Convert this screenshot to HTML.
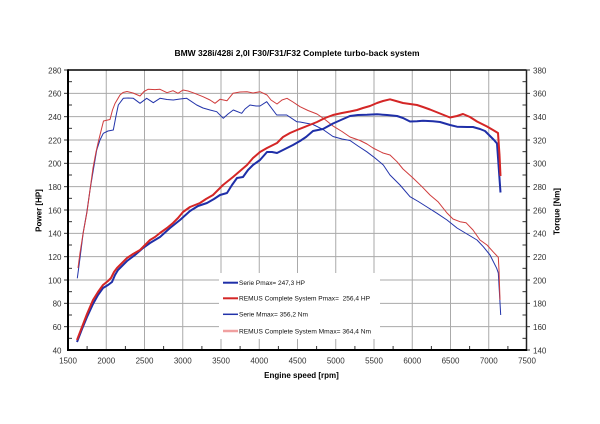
<!DOCTYPE html>
<html><head><meta charset="utf-8"><style>
html,body{margin:0;padding:0;background:#fff;}
svg{display:block;}
text{font-family:"Liberation Sans",Arial,sans-serif;}
</style></head><body>
<svg width="600" height="424" viewBox="0 0 600 424" xmlns="http://www.w3.org/2000/svg">
<rect x="0" y="0" width="600" height="424" fill="#fff"/>
<!-- grid -->
<g stroke="#aaaaaa" stroke-width="1" fill="none">
<line x1="106.25" y1="70" x2="106.25" y2="350"/>
<line x1="144.5" y1="70" x2="144.5" y2="350"/>
<line x1="182.75" y1="70" x2="182.75" y2="350"/>
<line x1="221" y1="70" x2="221" y2="350"/>
<line x1="259.25" y1="70" x2="259.25" y2="350"/>
<line x1="297.5" y1="70" x2="297.5" y2="350"/>
<line x1="335.75" y1="70" x2="335.75" y2="350"/>
<line x1="374" y1="70" x2="374" y2="350"/>
<line x1="412.25" y1="70" x2="412.25" y2="350"/>
<line x1="450.5" y1="70" x2="450.5" y2="350"/>
<line x1="488.75" y1="70" x2="488.75" y2="350"/>
<line x1="68" y1="93.33" x2="526.5" y2="93.33"/>
<line x1="68" y1="116.67" x2="526.5" y2="116.67"/>
<line x1="68" y1="140" x2="526.5" y2="140"/>
<line x1="68" y1="163.33" x2="526.5" y2="163.33"/>
<line x1="68" y1="186.67" x2="526.5" y2="186.67"/>
<line x1="68" y1="210" x2="526.5" y2="210"/>
<line x1="68" y1="233.33" x2="526.5" y2="233.33"/>
<line x1="68" y1="256.67" x2="526.5" y2="256.67"/>
<line x1="68" y1="280" x2="526.5" y2="280"/>
<line x1="68" y1="303.33" x2="526.5" y2="303.33"/>
<line x1="68" y1="326.67" x2="526.5" y2="326.67"/>
</g>
<!-- minor ticks -->
<g stroke="#333" stroke-width="1">
<line x1="68" y1="81.67" x2="72" y2="81.67"/><line x1="68" y1="105" x2="72" y2="105"/><line x1="68" y1="128.33" x2="72" y2="128.33"/><line x1="68" y1="151.67" x2="72" y2="151.67"/><line x1="68" y1="175" x2="72" y2="175"/><line x1="68" y1="198.33" x2="72" y2="198.33"/><line x1="68" y1="221.67" x2="72" y2="221.67"/><line x1="68" y1="245" x2="72" y2="245"/><line x1="68" y1="268.33" x2="72" y2="268.33"/><line x1="68" y1="291.67" x2="72" y2="291.67"/><line x1="68" y1="315" x2="72" y2="315"/><line x1="68" y1="338.33" x2="72" y2="338.33"/>
<line x1="522.5" y1="81.67" x2="526.5" y2="81.67"/><line x1="522.5" y1="105" x2="526.5" y2="105"/><line x1="522.5" y1="128.33" x2="526.5" y2="128.33"/><line x1="522.5" y1="151.67" x2="526.5" y2="151.67"/><line x1="522.5" y1="175" x2="526.5" y2="175"/><line x1="522.5" y1="198.33" x2="526.5" y2="198.33"/><line x1="522.5" y1="221.67" x2="526.5" y2="221.67"/><line x1="522.5" y1="245" x2="526.5" y2="245"/><line x1="522.5" y1="268.33" x2="526.5" y2="268.33"/><line x1="522.5" y1="291.67" x2="526.5" y2="291.67"/><line x1="522.5" y1="315" x2="526.5" y2="315"/><line x1="522.5" y1="338.33" x2="526.5" y2="338.33"/>
<line x1="87.1" y1="346" x2="87.1" y2="350"/><line x1="125.4" y1="346" x2="125.4" y2="350"/><line x1="163.6" y1="346" x2="163.6" y2="350"/><line x1="201.9" y1="346" x2="201.9" y2="350"/><line x1="240.1" y1="346" x2="240.1" y2="350"/><line x1="278.4" y1="346" x2="278.4" y2="350"/><line x1="316.6" y1="346" x2="316.6" y2="350"/><line x1="354.9" y1="346" x2="354.9" y2="350"/><line x1="393.1" y1="346" x2="393.1" y2="350"/><line x1="431.4" y1="346" x2="431.4" y2="350"/><line x1="469.6" y1="346" x2="469.6" y2="350"/><line x1="507.9" y1="346" x2="507.9" y2="350"/>
</g>
<!-- major ticks outward -->
<g stroke="#333" stroke-width="1">
<line x1="64" y1="70" x2="68" y2="70"/><line x1="64" y1="93.33" x2="68" y2="93.33"/><line x1="64" y1="116.67" x2="68" y2="116.67"/><line x1="64" y1="140" x2="68" y2="140"/><line x1="64" y1="163.33" x2="68" y2="163.33"/><line x1="64" y1="186.67" x2="68" y2="186.67"/><line x1="64" y1="210" x2="68" y2="210"/><line x1="64" y1="233.33" x2="68" y2="233.33"/><line x1="64" y1="256.67" x2="68" y2="256.67"/><line x1="64" y1="280" x2="68" y2="280"/><line x1="64" y1="303.33" x2="68" y2="303.33"/><line x1="64" y1="326.67" x2="68" y2="326.67"/>
<line x1="526.5" y1="70" x2="530" y2="70"/><line x1="526.5" y1="93.33" x2="530" y2="93.33"/><line x1="526.5" y1="116.67" x2="530" y2="116.67"/><line x1="526.5" y1="140" x2="530" y2="140"/><line x1="526.5" y1="163.33" x2="530" y2="163.33"/><line x1="526.5" y1="186.67" x2="530" y2="186.67"/><line x1="526.5" y1="210" x2="530" y2="210"/><line x1="526.5" y1="233.33" x2="530" y2="233.33"/><line x1="526.5" y1="256.67" x2="530" y2="256.67"/><line x1="526.5" y1="280" x2="530" y2="280"/><line x1="526.5" y1="303.33" x2="530" y2="303.33"/><line x1="526.5" y1="326.67" x2="530" y2="326.67"/><line x1="526.5" y1="350" x2="530" y2="350"/>
</g>
<!-- legend box -->
<rect x="219" y="273" width="161" height="66" fill="#fff"/>
<!-- torque curves -->
<polyline fill="none" stroke="#2233aa" stroke-width="1" stroke-linejoin="round" points="77.3,278.3 80,258 83.3,232 86.7,213 90,190 93.3,170 96.7,150 100,140 103.3,133.3 108,131 113.3,130 116,116 118.3,105 123.3,98.3 128,98 133.3,98.3 140,103.3 146.7,98.3 153.3,102.7 160,98.3 167,99.5 173.3,100 180,99 186.7,98.3 196.7,105 203,108 210,110 216.7,111.7 223.3,118.3 228,114 233.3,110 241.7,113.3 245,109 250,105 256,106 260,106 266.7,101.7 276.7,115 286.7,115 296.7,121.7 300,122 313,124.5 323,129.5 333,136.5 342,139 350,140.5 358,146 366.7,151.7 375,158 383.3,165 390,175 400,185 410,196.7 418.3,201.5 427,207 437,213.3 447,220 457,228 467,234 477,240 483.3,246.7 490,255 496.7,268.3 498.3,273 500.7,315"/>
<polyline fill="none" stroke="#d03c3c" stroke-width="1" stroke-linejoin="round" points="78,268 80,253 83,234 87,212 90,190 93,168 96,152 98.5,141 101,131 103.5,121 110,119.5 112.5,110 115,103.5 120,95 123,92.5 127,91.5 133,93 140,96 144,91.5 148,89.3 155,89.6 160,89.3 167,92.7 173,90.7 178,93.3 183,90 188,91 193,92.7 203,96.7 210,100 215,103.3 220,99.3 227,100.7 233,93.3 240,92 247,91.7 253,93 260,91.7 267,95 271,100 277,104 282,100 287,98.3 293,102 300,106.7 308,110.5 317,114 325,119.5 333,126 342,131.5 350,137 360,140.5 367,144 373,148 383,153 390,155 397,161.7 403,169 413,178 422,186.7 430,195 438,201.7 447,213 453,219 460,221.7 466,222.7 473,230 480,240 487,245 493,251.7 498.3,257.3 499,270 500,300"/>
<!-- power curves -->
<polyline fill="none" stroke="#1f2fa8" stroke-width="2" stroke-linejoin="round" points="77,342 82,329 87,317 93,304 98,295 103,288 108,285 112,282 115,275 118,270 122,266 127,261 135,255 143,248 150,243 160,237 170,228 180,220 190,211 198,206 207,203 214,199 220,195 227,193 232,185 237,178 243,177 248,170 253,165 260,160 267,152 272,152 277,153 285,149 293,145 300,141 306,137 313,131 323,129 333,123.5 342,119.5 350,116 358,115 367,114.8 377,114.3 387,115 397,116 403,118 410,121.5 417,121.3 423,120.8 433,121.2 440,122 450,125 457,126.7 467,127 473,127 480,129 485,131 490,136 494,140 497,143.5 500.5,192.5"/>
<polyline fill="none" stroke="#d42626" stroke-width="2" stroke-linejoin="round" points="77,340 82,327 87,314 93,300 98,292 103,285 108,281 111,278 114,272 117,268 121,264 127,258 133,254 140,250 145,245 150,240 155,237 160,233 167,228 173,223 178,218 183,212 190,207 200,203 206,199 213,195 218,190 223,185 228,181 233,177 240,171 247,165 253,158 260,152 267,148 277,143 283,137 290,133 297,130 307,126 317,122 325,118 333,115 342,113 350,111.5 357,110 363,108 370,106 377,103 383,101 390,99.3 396,101 403,103 410,104 417,105 423,107 430,109.5 440,113.5 450,117.5 457,116 463,114 470,117 477,121.5 487,126.5 493,130 498,133 499.5,155 500.5,176"/>
<!-- legend entries -->
<line x1="223" y1="282.7" x2="238" y2="282.7" stroke="#1f2fa8" stroke-width="2"/>
<line x1="223" y1="298.3" x2="238" y2="298.3" stroke="#d42626" stroke-width="2"/>
<line x1="223" y1="314.3" x2="238" y2="314.3" stroke="#2233aa" stroke-width="1.5"/>
<line x1="223" y1="331" x2="238" y2="331" stroke="#f0a0a0" stroke-width="2.5"/>
<g font-size="6.5" fill="#111">
<text x="239" y="285" textLength="66" lengthAdjust="spacingAndGlyphs">Serie Pmax= 247,3 HP</text>
<text x="239" y="300.6" textLength="131" lengthAdjust="spacingAndGlyphs" xml:space="preserve">REMUS Complete System Pmax=  256,4 HP</text>
<text x="239" y="316.6" textLength="69" lengthAdjust="spacingAndGlyphs">Serie Mmax= 356,2 Nm</text>
<text x="239" y="333.3" textLength="132" lengthAdjust="spacingAndGlyphs">REMUS Complete System Mmax= 364,4 Nm</text>
</g>
<!-- frame -->
<g stroke="#000" fill="none">
<line x1="68" y1="70" x2="526.5" y2="70" stroke-width="1.5"/>
<line x1="526.5" y1="70" x2="526.5" y2="351" stroke-width="1.5" stroke="#222"/>
<line x1="68" y1="69.3" x2="68" y2="351" stroke-width="2"/>
<line x1="67" y1="350" x2="527" y2="350" stroke-width="2"/>
</g>
<!-- tick labels -->
<g font-size="8" fill="#333" text-anchor="end">
<text x="61.5" y="73.3">280</text><text x="61.5" y="96.6">260</text><text x="61.5" y="120">240</text><text x="61.5" y="143.3">220</text><text x="61.5" y="166.6">200</text><text x="61.5" y="190">180</text><text x="61.5" y="213.3">160</text><text x="61.5" y="236.6">140</text><text x="61.5" y="260">120</text><text x="61.5" y="283.3">100</text><text x="61.5" y="306.6">80</text><text x="61.5" y="330">60</text><text x="61.5" y="353.3">40</text>
</g>
<g font-size="8" fill="#333" text-anchor="start">
<text x="533" y="73.3">380</text><text x="533" y="96.6">360</text><text x="533" y="120">340</text><text x="533" y="143.3">320</text><text x="533" y="166.6">300</text><text x="533" y="190">280</text><text x="533" y="213.3">260</text><text x="533" y="236.6">240</text><text x="533" y="260">220</text><text x="533" y="283.3">200</text><text x="533" y="306.6">180</text><text x="533" y="330">160</text><text x="533" y="353.3">140</text>
</g>
<g font-size="8" fill="#333" text-anchor="middle">
<text x="68" y="363.5">1500</text><text x="106.25" y="363.5">2000</text><text x="144.5" y="363.5">2500</text><text x="182.75" y="363.5">3000</text><text x="221" y="363.5">3500</text><text x="259.25" y="363.5">4000</text><text x="297.5" y="363.5">4500</text><text x="335.75" y="363.5">5000</text><text x="374" y="363.5">5500</text><text x="412.25" y="363.5">6000</text><text x="450.5" y="363.5">6500</text><text x="488.75" y="363.5">7000</text><text x="527" y="363.5">7500</text>
</g>
<!-- titles -->
<text x="297" y="56" font-size="8" font-weight="bold" fill="#000" text-anchor="middle" textLength="245" lengthAdjust="spacingAndGlyphs">BMW 328i/428i 2,0l F30/F31/F32 Complete turbo-back system</text>
<text x="301.5" y="378" font-size="8" font-weight="bold" fill="#000" text-anchor="middle">Engine speed [rpm]</text>
<text transform="translate(41.5,210.5) rotate(-90)" font-size="8" font-weight="bold" fill="#000" text-anchor="middle">Power [HP]</text>
<text transform="translate(559.5,211.5) rotate(-90)" font-size="8" font-weight="bold" fill="#000" text-anchor="middle">Torque [Nm]</text>
</svg>
</body></html>
